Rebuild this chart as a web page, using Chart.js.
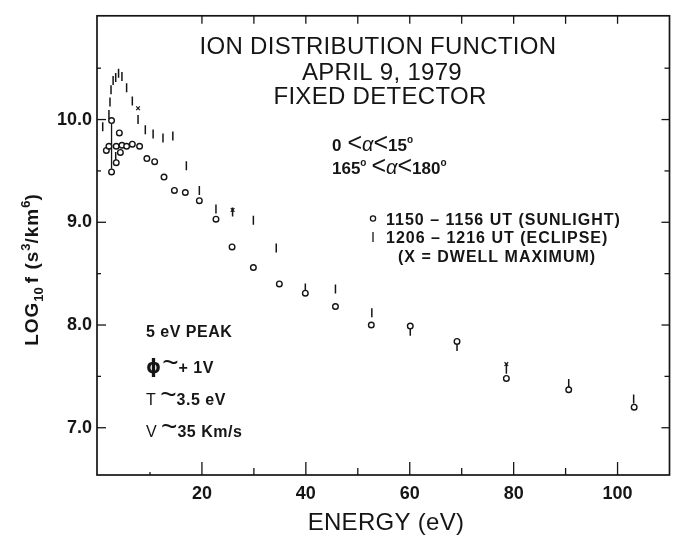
<!DOCTYPE html>
<html>
<head>
<meta charset="utf-8">
<title>Ion Distribution Function - April 9, 1979</title>
<script src="https://cdn.jsdelivr.net/npm/chart.js@4.4.1/dist/chart.umd.min.js"></script>
<style>
  html, body { margin: 0; padding: 0; background: #fff; }
</style>
</head>
<body>
<canvas id="ionChart" width="679" height="535"></canvas>
<script>
// Ion distribution function, fixed detector
// energy in eV, log10 f in s^3/km^6

// 1150 - 1156 UT (sunlight) - open circles
const sunlightEnergy = [1.6, 2.1, 2.6, 2.6, 3.5, 3.5, 4.1, 4.3, 4.6, 5.5, 6.6, 8.0,
  9.4, 10.9, 12.7, 14.7, 16.8, 19.5, 22.7, 25.8, 29.9, 34.9, 39.9, 45.7, 52.6,
  60.1, 69.1, 78.6, 90.6, 103.2];
const sunlightLog = [9.70, 9.74, 9.99, 9.49, 9.58, 9.74, 9.87, 9.68, 9.75, 9.74, 9.76, 9.74,
  9.62, 9.59, 9.44, 9.31, 9.29, 9.21, 9.03, 8.76, 8.56, 8.40, 8.31, 8.18, 8.00,
  7.99, 7.84, 7.48, 7.37, 7.20];

// 1206 - 1216 UT (eclipse) - vertical bars
const eclipseEnergy = [0.9, 2.1, 2.3, 2.5, 2.9, 3.4, 3.4, 3.95, 4.6, 5.5, 6.6, 7.7,
  9.1, 10.6, 12.5, 14.4, 17.0, 19.5, 22.7, 25.9, 29.9, 34.3, 39.9, 45.7, 52.7,
  60.1, 69.1, 78.6, 90.6, 103.1];
const eclipseLog = [9.93, 10.05, 10.17, 10.29, 10.38, 10.41, 9.64, 10.45, 10.42, 10.31, 10.18, 10.00,
  9.90, 9.86, 9.82, 9.84, 9.55, 9.31, 9.13, 9.10, 9.02, 8.75, 8.36, 8.35, 8.12,
  7.94, 7.79, 7.57, 7.43, 7.28];

// X = dwell maximum
const dwellEnergy = [7.7, 25.9, 78.6];
const dwellLog = [10.11, 9.12, 7.62];

// spread of the lowest sunlight sweep at ~2.6 eV
const spreadEnergy = [2.6, 2.6];
const spreadLog = [9.98, 9.52];

// axes
const xTickValues = [20, 40, 60, 80, 100];
const xMinorValues = [10, 30, 50, 70, 90];
const yTickValues = [7, 8, 9, 10];
const yMinorValues = [7.5, 8.5, 9.5, 10.5];

const ink = '#151515';
const sans = '"Liberation Sans", Arial, sans-serif';

const toPoints = (xs, ys) => xs.map((x, i) => ({ x: x, y: ys[i] }));

// draws a row of text pieces (sub/superscripts, mixed fonts) left to right
function drawRuns(ctx, runs, x, y, align) {
  let total = 0;
  runs.forEach(r => {
    ctx.font = r.font;
    ctx.letterSpacing = (r.ls || 0) + 'px';
    total += ctx.measureText(r.text).width + (r.gap || 0);
  });
  let cx = align === 'center' ? x - total / 2 : x;
  runs.forEach(r => {
    ctx.font = r.font;
    ctx.letterSpacing = (r.ls || 0) + 'px';
    ctx.fillText(r.text, cx, y + (r.dy || 0));
    cx += ctx.measureText(r.text).width + (r.gap || 0);
  });
  ctx.letterSpacing = '0px';
}

// frame and inward tick marks
const frameTicks = {
  id: 'frameTicks',
  beforeDatasetsDraw(chart) {
    const { ctx, chartArea: a, scales: { x, y } } = chart;
    ctx.save();
    ctx.strokeStyle = ink;
    ctx.lineWidth = 1.7;
    ctx.strokeRect(a.left, a.top, a.right - a.left, a.bottom - a.top);
    ctx.lineWidth = 1.3;
    const seg = (x1, y1, x2, y2) => {
      ctx.beginPath();
      ctx.moveTo(x1, y1);
      ctx.lineTo(x2, y2);
      ctx.stroke();
    };
    xTickValues.forEach(v => {
      const px = x.getPixelForValue(v);
      seg(px, a.bottom, px, a.bottom - 13);
      seg(px, a.top, px, a.top + 8);
    });
    xMinorValues.forEach(v => {
      const px = x.getPixelForValue(v);
      seg(px, a.bottom, px, a.bottom - (v < 20 ? 3 : 7));
      if (v > 20) seg(px, a.top, px, a.top + 8);
    });
    yTickValues.forEach(v => {
      const py = y.getPixelForValue(v);
      seg(a.left, py, a.left + 9, py);
      seg(a.right, py, a.right - 8, py);
    });
    yMinorValues.forEach(v => {
      const py = y.getPixelForValue(v);
      seg(a.left, py, a.left + 4, py);
      seg(a.right, py, a.right - 5, py);
    });
    ctx.restore();
  }
};

// titles, annotations, legend and axis titles
const annotations = {
  id: 'annotations',
  afterDraw(chart) {
    const { ctx } = chart;
    ctx.save();
    ctx.fillStyle = ink;
    ctx.strokeStyle = ink;
    ctx.textBaseline = 'alphabetic';
    ctx.textAlign = 'left';

    const title = '24px ' + sans;
    drawRuns(ctx, [{ text: 'ION DISTRIBUTION FUNCTION', font: title, ls: 0.3 }], 378, 54, 'center');
    drawRuns(ctx, [{ text: 'APRIL 9, 1979', font: title, ls: 0.3 }], 382, 80, 'center');
    drawRuns(ctx, [{ text: 'FIXED DETECTOR', font: title, ls: 0.3 }], 380, 104, 'center');

    // pitch angle ranges
    const num = 'bold 17px ' + sans;
    const lt = '25px ' + sans;
    const al = 'italic 20px ' + sans;
    const deg = 'bold 10px ' + sans;
    drawRuns(ctx, [
      { text: '0', font: num, gap: 6 },
      { text: '<', font: lt },
      { text: 'α', font: al },
      { text: '<', font: lt },
      { text: '15', font: num },
      { text: 'o', font: deg, dy: -8 }
    ], 332, 151);
    drawRuns(ctx, [
      { text: '165', font: num },
      { text: 'o', font: deg, dy: -8, gap: 5 },
      { text: '<', font: lt },
      { text: 'α', font: al },
      { text: '<', font: lt },
      { text: '180', font: num },
      { text: 'o', font: deg, dy: -8 }
    ], 332, 174);

    // legend
    const leg = 'bold 16px ' + sans;
    ctx.lineWidth = 1.3;
    ctx.beginPath();
    ctx.arc(373, 218.5, 2.6, 0, Math.PI * 2);
    ctx.stroke();
    ctx.beginPath();
    ctx.moveTo(373, 232);
    ctx.lineTo(373, 242);
    ctx.stroke();
    drawRuns(ctx, [{ text: '1150 \u2013 1156 UT (SUNLIGHT)', font: leg, ls: 1 }], 386, 224.5);
    drawRuns(ctx, [{ text: '1206 \u2013 1216 UT (ECLIPSE)', font: leg, ls: 1 }], 386, 243);
    drawRuns(ctx, [{ text: '(X = DWELL MAXIMUM)', font: leg, ls: 1 }], 398, 261.5);

    // plasma parameters
    const par = 'bold 16px ' + sans;
    const tilde = '28px ' + sans;
    drawRuns(ctx, [{ text: '5 eV PEAK', font: par, ls: 0.5 }], 146, 337);
    drawRuns(ctx, [
      { text: '\u03D5', font: 'bold 19px "DejaVu Sans", sans-serif', gap: 1 },
      { text: '~', font: tilde, dy: -1 },
      { text: '+ 1V', font: par, ls: 0.5 }
    ], 146, 373);
    drawRuns(ctx, [
      { text: 'T ', font: '16px ' + sans },
      { text: '~', font: tilde, dy: -1 },
      { text: '3.5 eV', font: par, ls: 0.5 }
    ], 146, 405);
    drawRuns(ctx, [
      { text: 'V ', font: '16px ' + sans },
      { text: '~', font: tilde, dy: -1 },
      { text: '35 Km/s', font: par, ls: 0.5 }
    ], 146, 437);

    // x axis title
    drawRuns(ctx, [{ text: 'ENERGY (eV)', font: '24px ' + sans, ls: 0.3 }], 386, 530, 'center');

    // y axis title, rotated
    ctx.translate(38, 270);
    ctx.rotate(-Math.PI / 2);
    const yt = 'bold 19px ' + sans;
    const ys = 'bold 13px ' + sans;
    drawRuns(ctx, [
      { text: 'LOG', font: yt, ls: 1 },
      { text: '10', font: ys, dy: 5, gap: 4 },
      { text: 'f (s', font: yt, ls: 1 },
      { text: '3', font: ys, dy: -8 },
      { text: '/km', font: yt, ls: 1 },
      { text: '6', font: ys, dy: -8 },
      { text: ')', font: yt }
    ], 0, 0, 'center');
    ctx.restore();
  }
};

const ionCtx = document.getElementById('ionChart');
new Chart(ionCtx, {
  type: 'scatter',
  data: {
    datasets: [
      {
        label: '1150 - 1156 UT (SUNLIGHT)',
        data: toPoints(sunlightEnergy, sunlightLog),
        pointStyle: 'circle',
        pointRadius: 2.8,
        pointBorderWidth: 1.4,
        borderColor: ink,
        backgroundColor: '#fff',
        order: 0,
      },
      {
        label: '1206 - 1216 UT (ECLIPSE)',
        data: toPoints(eclipseEnergy, eclipseLog),
        pointStyle: 'line',
        rotation: 90,
        pointRadius: 4.5,
        pointBorderWidth: 1.5,
        borderColor: ink,
        backgroundColor: ink,
        order: 2,
      },
      {
        label: 'DWELL MAXIMUM',
        data: toPoints(dwellEnergy, dwellLog),
        pointStyle: 'crossRot',
        pointRadius: 2.6,
        pointBorderWidth: 1.2,
        borderColor: ink,
        backgroundColor: ink,
        order: 1,
      },
      {
        label: 'spread',
        type: 'line',
        data: toPoints(spreadEnergy, spreadLog),
        showLine: true,
        pointRadius: 0,
        borderWidth: 1.3,
        borderColor: ink,
        order: 3,
      }
    ]
  },
  options: {
    responsive: false,
    animation: false,
    devicePixelRatio: 1,
    layout: {
      padding: { top: 7, right: 9.5, left: 0, bottom: 0 }
    },
    plugins: {
      legend: { display: false },
      tooltip: { enabled: false },
    },
    scales: {
      x: {
        type: 'linear',
        min: -0.2,
        max: 110,
        grid: { display: false, drawTicks: false },
        border: { display: false },
        afterBuildTicks: (scale) => {
          scale.ticks = xTickValues.map(v => ({ value: v }));
        },
        afterFit: (scale) => { scale.height = 60; },
        ticks: {
          autoSkip: false,
          maxRotation: 0,
          padding: 8,
          color: ink,
          font: { family: sans, size: 18, weight: 'bold' },
          callback: (value) => value,
        }
      },
      y: {
        type: 'linear',
        min: 6.54,
        max: 11.01,
        grid: { display: false, drawTicks: false },
        border: { display: false },
        afterBuildTicks: (scale) => {
          scale.ticks = yTickValues.map(v => ({ value: v }));
        },
        afterFit: (scale) => { scale.width = 97; },
        ticks: {
          autoSkip: false,
          padding: 5,
          color: ink,
          font: { family: sans, size: 18, weight: 'bold' },
          callback: (value) => value.toFixed(1),
        }
      }
    }
  },
  plugins: [frameTicks, annotations]
});
</script>
</body>
</html>
